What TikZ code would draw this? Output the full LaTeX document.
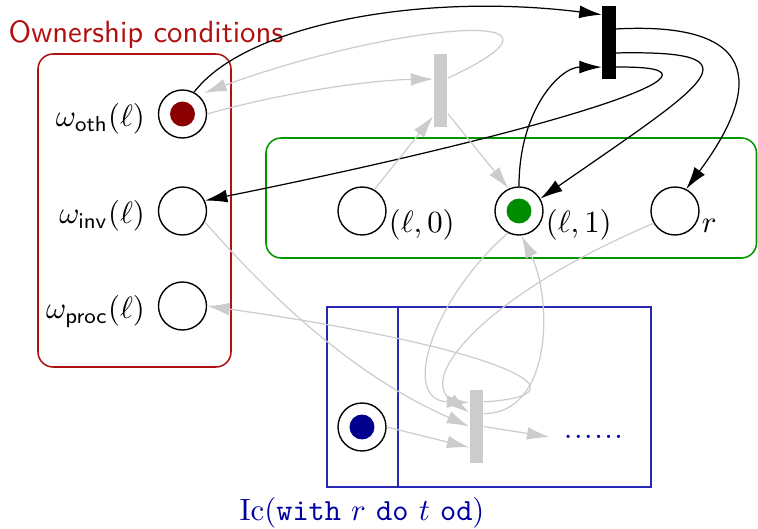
\documentclass[tikz,border=0pt]{standalone}
\usetikzlibrary{arrows.meta}
\definecolor{ownred}{RGB}{176,16,16}
\definecolor{tokred}{RGB}{139,0,0}
\definecolor{owngreen}{RGB}{0,150,0}
\definecolor{tokgreen}{RGB}{0,140,0}
\definecolor{boxblue}{RGB}{40,40,180}
\definecolor{tokblue}{RGB}{0,0,140}
\definecolor{capblue}{RGB}{0,0,160}
\begin{document}
\begin{tikzpicture}[x=0.325pt, y=-0.325pt,
  >={Latex[length=7.3pt,width=4.2pt]},
  place/.style={circle, draw, line width=0.45pt, minimum size=15.6pt, inner sep=0pt},
  tok/.style={circle, fill=#1, draw=none, minimum size=8.1pt, inner sep=0pt},
  trans/.style={rectangle, fill=#1, draw=none, minimum width=4.3pt, minimum height=23.7pt, inner sep=0pt},
  blk/.style={->, line width=0.4pt, color=black},
  gry/.style={->, line width=0.4pt, color=gray!40},
  lft/.style={label={[anchor=base east, inner sep=0pt, xshift=-4pt, yshift=-4.2pt]west:#1}},
  rgt/.style={label={[anchor=base west, inner sep=0.5pt, yshift=-7.1pt]east:#1}},
  frame/.style={line width=0.5pt, rounded corners=4.9pt}
]
\useasboundingbox (0,0) rectangle (758,529);

% boxes
\draw[frame, ownred] (38,54) rectangle (231,367);
\draw[frame, owngreen] (266,138) rectangle (756.5,258);
\draw[line width=0.5pt, boxblue] (327,307) rectangle (651,487);
\draw[line width=0.5pt, boxblue] (398,307) -- (398,487);

\node[anchor=base west, inner sep=0pt, text=ownred, font=\sffamily] (title) at (8,43) {Ownership conditions};

% places
\node[place, lft={$\omega_{\mathsf{oth}}(\ell)$}] (oth) at (182.5,114) {};
\node[tok=tokred] (othtok) at (oth.center) {};
\node[place, lft={$\omega_{\mathsf{inv}}(\ell)$}] (inv) at (182.5,211) {};
\node[place, lft={$\omega_{\mathsf{proc}}(\ell)$}] (proc) at (182.5,306) {};

\node[place, rgt={$(\ell,0)$}] (p0) at (362,211) {};
\node[place, rgt={$(\ell,1)$}] (p1) at (519,211) {};
\node[tok=tokgreen] (p1tok) at (p1.center) {};
\node[place, rgt={$r$}] (pr) at (675,211) {};

\node[place] (bp) at (362,427) {};
\node[tok=tokblue] (bptok) at (bp.center) {};

% transitions
\node[trans=black] (T1) at (609,42.5) {};
\node[trans=gray!40] (T0) at (440.5,90.5) {};
\node[trans=gray!40] (T2) at (476.5,426.5) {};

\node[text=capblue, inner sep=4.5pt] (dots) at (593.5,437) {.\kern0.5pt.\kern0.5pt.\kern0.5pt.\kern0.5pt.\kern0.5pt.};
\node[anchor=base, text=capblue, inner sep=0pt] (cap) at (362,521) {$\mathrm{Ic}(\texttt{with}\ r\ \texttt{do}\ t\ \texttt{od})$};

% black arcs
\draw[blk] (oth.62) .. controls (245,25) and (420,-8) .. ([yshift=-3pt]T1.north west);
\draw[blk] ([yshift=4.4pt]T1.east) .. controls (785,20) and (745,110) .. (pr.63);
\draw[blk] ([yshift=-3.4pt]T1.east) .. controls (765,50) and (707,83) .. (p1.30);
\draw[blk] ([yshift=-8pt]T1.east) .. controls (760,65) and (550,131) .. (inv.25);
\draw[blk] (p1.north) .. controls (519,110) and (560,67) .. ([yshift=-8pt]T1.west);

% grey arcs (upper)
\draw[gry] (oth.east) .. controls (280,93) and (370,80) .. ([yshift=3.7pt]T0.west);
\draw[gry, shorten >=2pt] ([yshift=4pt]T0.east) .. controls (605,5) and (394,23) .. (oth.50);
\draw[gry] (p0.60) -- ([yshift=-8.3pt]T0.west);
\draw[gry] ([yshift=-7.5pt]T0.east) -- (p1.115);

% grey arcs (lower)
\draw[gry] (inv.-26) .. controls (267,293) and (350,374) .. (T2.west);
\draw[gry] (bp.east) -- ([yshift=-6.8pt]T2.west);
\draw[gry] (p1.-117) .. controls (432,300) and (400,400) .. ([yshift=7.8pt]T2.west);
\draw[gry] (pr.-150) .. controls (495,290) and (415,375) .. ([yshift=4.5pt]T2.west);
\draw[gry] ([yshift=8pt]T2.east) .. controls (596,395) and (504,348) .. (proc.east);
\draw[gry] ([yshift=4.2pt]T2.east) .. controls (552,414) and (553,300) .. (p1.-84);
\draw[gry] (T2.east) -- (dots.west);
\end{tikzpicture}
\end{document}
